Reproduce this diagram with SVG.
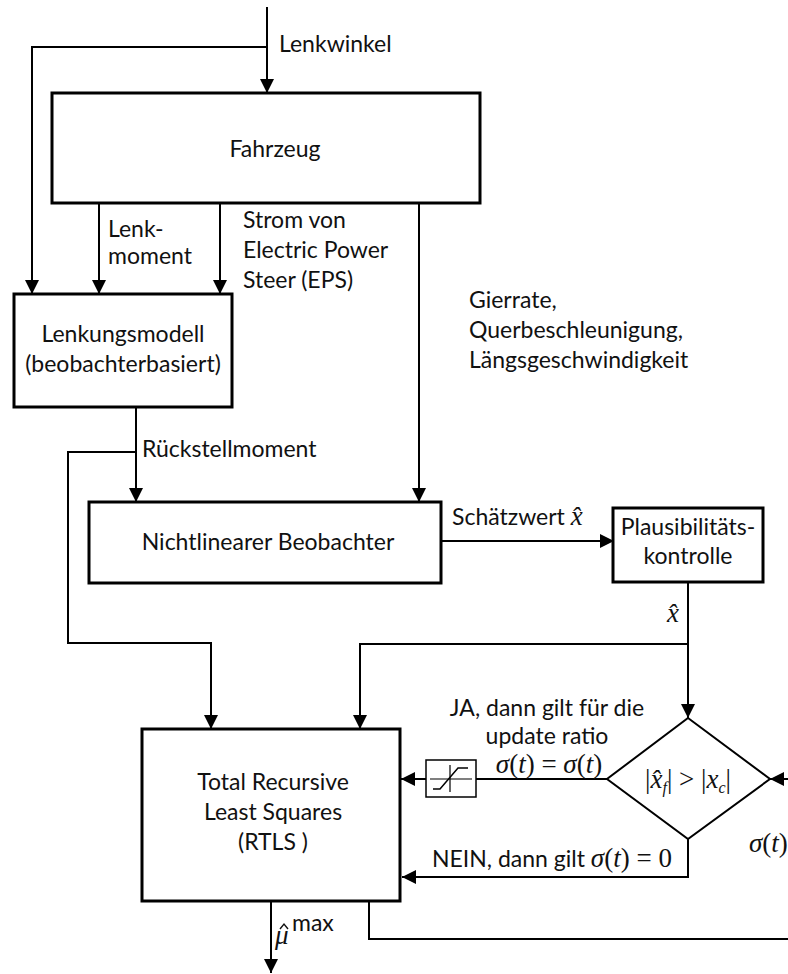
<svg xmlns="http://www.w3.org/2000/svg" width="788" height="974" viewBox="0 0 788 974">
  <style>
    .box { fill: #fff; stroke: #000; stroke-width: 3; }
    .thin { fill: #fff; stroke: #000; stroke-width: 1.5; }
    .dia { fill: #fff; stroke: #000; stroke-width: 2; }
    .wire { fill: none; stroke: #000; stroke-width: 2; }
    .arr { fill: none; stroke: #000; stroke-width: 2; marker-end: url(#head); }
    text { font-family: Lato, "Open Sans", sans-serif; font-size: 23px; fill: #111; }
    .c { text-anchor: middle; }
    .m { font-family: "Liberation Serif", "DejaVu Serif", serif; font-size: 27px; }
    .i { font-style: italic; }
  </style>
  <defs>
    <marker id="head" markerUnits="userSpaceOnUse" markerWidth="14" markerHeight="14" refX="14" refY="7" orient="auto">
      <path d="M0,0 L14,7 L0,14 Z" fill="#000"/>
    </marker>
  </defs>

  <rect width="788" height="974" fill="#fff"/>

  <!-- signal lines -->
  <g id="connectors">
    <path class="arr" d="M267,7 V93"/>
    <path class="arr" d="M267,47 H32 V294"/>
    <path class="arr" d="M99,203 V294"/>
    <path class="arr" d="M220,203 V294"/>
    <path class="arr" d="M419,203 V502"/>
    <path class="arr" d="M136,407 V502"/>
    <path class="arr" d="M136,452 H68 V643 H211 V729"/>
    <path class="arr" d="M441,541 H614"/>
    <path class="arr" d="M688,582 V718"/>
    <path class="arr" d="M688,644 H360 V729"/>
    <path class="wire" d="M607,779 H476"/>
    <path class="arr" d="M426,779 H401"/>
    <path class="arr" d="M688,839 V877 H402"/>
    <path class="arr" d="M271,901 V973"/>
    <path class="wire" d="M369,901 V939 H790"/>
    <path class="arr" d="M790,779 H770"/>
  </g>

  <g id="fahrzeug">
    <rect class="box" x="52" y="93" width="428" height="110"/>
    <text class="c" x="275" y="157">Fahrzeug</text>
  </g>

  <g id="lenkungsmodell">
    <rect class="box" x="14" y="294" width="218" height="113"/>
    <text class="c" x="123" y="342">Lenkungsmodell</text>
    <text class="c" x="123" y="372">(beobachterbasiert)</text>
  </g>

  <g id="beobachter">
    <rect class="box" x="89" y="502" width="352" height="81"/>
    <text class="c" x="268" y="550">Nichtlinearer Beobachter</text>
  </g>

  <g id="plausibilitaet">
    <rect class="box" x="613" y="508" width="150" height="74"/>
    <text class="c" x="688" y="535">Plausibilitäts-</text>
    <text class="c" x="688" y="564">kontrolle</text>
  </g>

  <g id="entscheidung">
    <polygon class="dia" points="688,718 770,779 688,839 607,779"/>
    <text class="c m" x="688" y="788">|<tspan class="i">x̂</tspan><tspan class="i" font-size="16" dy="5">f</tspan><tspan dy="-5">| &gt; |</tspan><tspan class="i">x</tspan><tspan class="i" font-size="16" dy="5">c</tspan><tspan dy="-5">|</tspan></text>
  </g>

  <g id="saettigung">
    <rect class="thin" x="426" y="760" width="50" height="37"/>
    <path d="M430,779 H472 M450,765 V792" stroke="#000" stroke-width="1.2" fill="none"/>
    <path d="M433,789 H440 L458,768 H468" stroke="#000" stroke-width="1.5" fill="none"/>
  </g>

  <g id="rtls">
    <rect class="box" x="142" y="729" width="258" height="172"/>
    <text class="c" x="273" y="790">Total Recursive</text>
    <text class="c" x="273" y="820">Least Squares</text>
    <text class="c" x="273" y="850">(RTLS )</text>
  </g>

  <!-- signal names -->
  <g id="labels">
    <text x="279" y="52">Lenkwinkel</text>
    <text x="108" y="237">Lenk-</text>
    <text x="108" y="264">moment</text>
    <text x="243" y="228">Strom von</text>
    <text x="243" y="258">Electric Power</text>
    <text x="243" y="288">Steer (EPS)</text>
    <text x="469" y="308">Gierrate,</text>
    <text x="469" y="338">Querbeschleunigung,</text>
    <text x="469" y="368">Längsgeschwindigkeit</text>
    <text x="142" y="457">Rückstellmoment</text>
    <text x="452" y="525">Schätzwert <tspan class="m i">x̂</tspan></text>
    <text class="c m i" x="673" y="622">x̂</text>
    <text class="c" x="547" y="716">JA, dann gilt für die</text>
    <text class="c" x="547" y="744">update ratio</text>
    <text class="c m" x="549" y="773"><tspan class="i">σ</tspan>(<tspan class="i">t</tspan>) = <tspan class="i">σ</tspan>(<tspan class="i">t</tspan>)</text>
    <text x="432" y="867">NEIN, dann gilt <tspan class="m"><tspan class="i">σ</tspan>(<tspan class="i">t</tspan>) = 0</tspan></text>
    <text class="m" x="749" y="852"><tspan class="i">σ</tspan>(<tspan class="i">t</tspan>)</text>
    <!-- estimated friction coefficient output, with its hat accent -->
    <text class="m i" x="275" y="944">μ</text>
    <path d="M280,929 L284,924 L288,929" fill="none" stroke="#111" stroke-width="1.4"/>
    <text x="292" y="931" font-size="13">max</text>
  </g>
</svg>
